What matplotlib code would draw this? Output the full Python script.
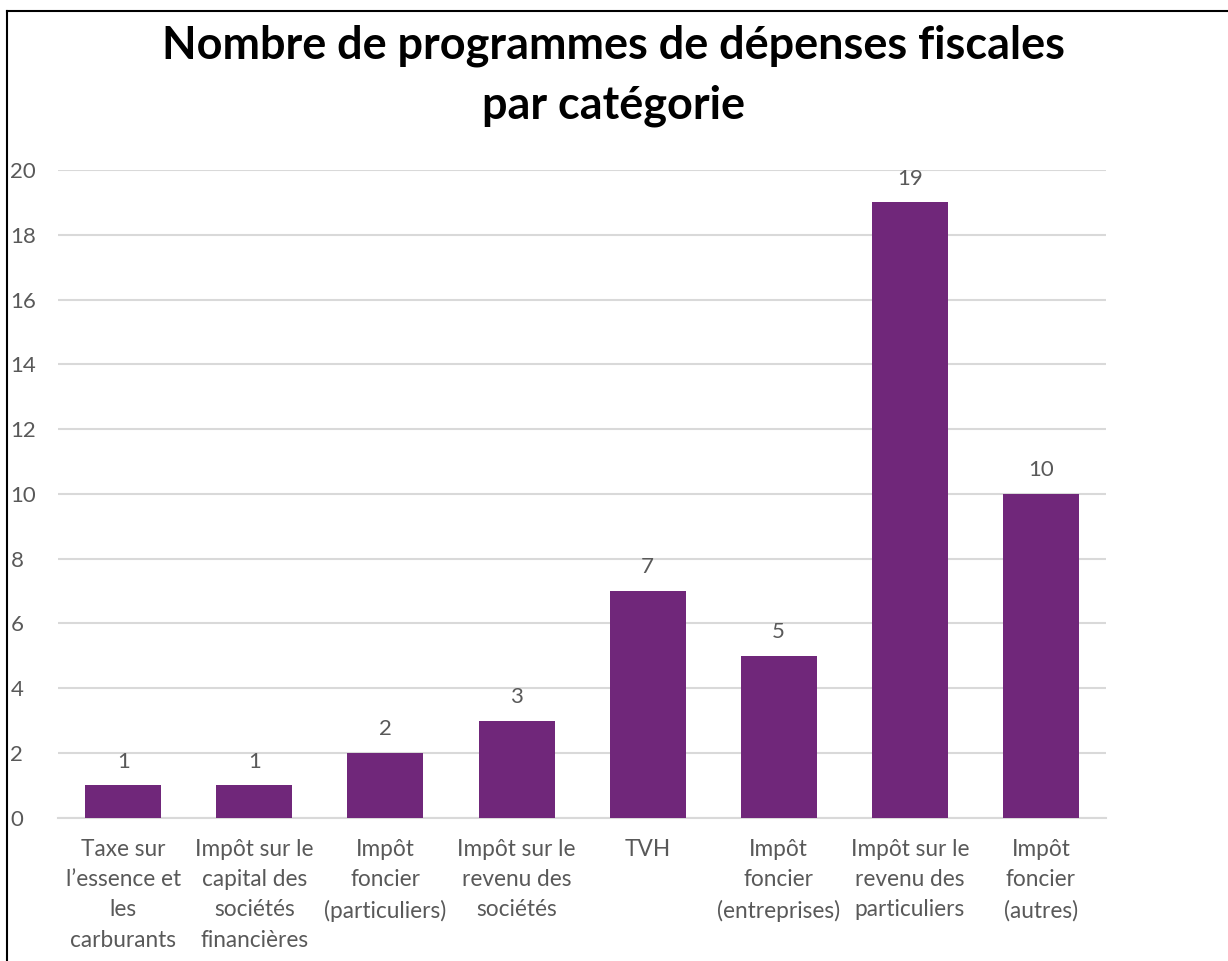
import matplotlib
matplotlib.use('Agg')
import matplotlib.pyplot as plt
from matplotlib.lines import Line2D

categories = [
    'Taxe sur\nl\u2019essence et\nles\ncarburants',
    'Impôt sur le\ncapital des\nsociétés\nfinancières',
    'Impôt\nfoncier\n(particuliers)',
    'Impôt sur le\nrevenu des\nsociétés',
    'TVH',
    'Impôt\nfoncier\n(entreprises)',
    'Impôt sur le\nrevenu des\nparticuliers',
    'Impôt\nfoncier\n(autres)',
]
values = [1, 1, 2, 3, 7, 5, 19, 10]
yticks = list(range(0, 21, 2))
title_lines = ['Nombre de programmes de dépenses fiscales', 'par catégorie']

bar_color = '#70277A'
text_color = '#595959'
grid_color = '#D9D9D9'

plt.rcParams['font.family'] = ['Lato', 'DejaVu Sans']

fig = plt.figure(figsize=(12.28, 9.61), dpi=100)
ax = fig.add_axes([0.047, 0.149, 0.854, 0.674])

x = list(range(len(categories)))
bars = ax.bar(x, values, width=0.58, color=bar_color, zorder=3)
for xi, v in zip(x, values):
    ax.annotate(str(v), (xi, v), xytext=(0, 17), textcoords='offset points',
                ha='center', va='center', fontsize=16, color=text_color)

ax.set_xlim(-0.5, len(categories) - 0.5)
ax.set_ylim(0, 20)
ax.set_yticks(yticks)
ax.set_yticklabels([str(t) for t in yticks], fontsize=16, color=text_color)
ax.set_xticks(x)
ax.set_xticklabels(categories, fontsize=16.3, color=text_color, linespacing=1.55, va='top')
ax.tick_params(axis='both', length=0)
ax.tick_params(axis='y', pad=34)
ax.tick_params(axis='x', pad=15)
ax.yaxis.grid(True, color=grid_color, linewidth=1.5, zorder=0)
ax.set_axisbelow(True)
for s in ['top', 'right', 'left']:
    ax.spines[s].set_visible(False)
ax.spines['bottom'].set_color(grid_color)
ax.spines['bottom'].set_linewidth(1.5)

for lab in ax.get_yticklabels():
    lab.set_horizontalalignment('left')

fig.text(0.5, 1 - 46 / 961, title_lines[0], ha='center', va='center',
         fontsize=32.4, fontweight='bold', color='black')
fig.text(0.5, 1 - 106 / 961, title_lines[1], ha='center', va='center',
         fontsize=32.4, fontweight='bold', color='black')

# frame, only left and top edges visible
fig.add_artist(Line2D([7 / 1228, 7 / 1228], [0, 1 - 11 / 961], transform=fig.transFigure,
                      color='black', linewidth=1.5))
fig.add_artist(Line2D([7 / 1228, 1], [1 - 11 / 961, 1 - 11 / 961], transform=fig.transFigure,
                      color='black', linewidth=1.5))

fig.savefig('out.png', dpi=100)
